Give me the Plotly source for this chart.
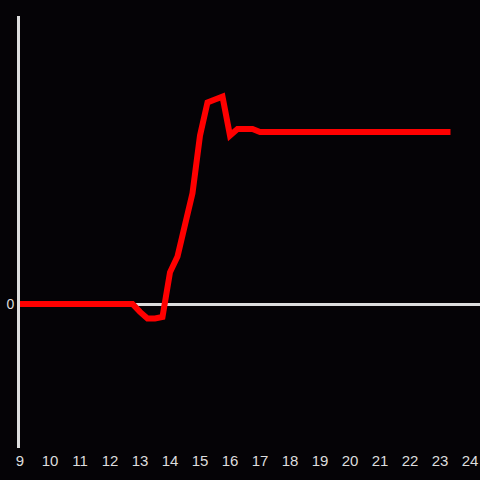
import plotly.graph_objects as go

hours = [9.0, 9.25, 9.5, 9.75, 10.0, 10.25, 10.5, 10.75, 11.0, 11.25, 11.5, 11.75,
         12.0, 12.25, 12.5, 12.75, 13.0, 13.25, 13.5, 13.75, 14.0, 14.25, 14.5,
         14.75, 15.0, 15.25, 15.5, 15.75, 16.0, 16.25, 16.5, 16.75, 17.0, 17.25,
         17.5, 17.75, 18.0, 18.5, 19.0, 19.5, 20.0, 20.5, 21.0, 21.5, 22.0, 22.5,
         23.0, 23.35]
values = [0, 0, 0, 0, 0, 0, 0, 0, 0, 0, 0, 0,
          0, 0, 0, 0, -0.055, -0.1, -0.1, -0.09, 0.22, 0.33, 0.55,
          0.77, 1.17, 1.40, 1.42, 1.44, 1.17, 1.215, 1.215, 1.215, 1.194, 1.194,
          1.194, 1.194, 1.194, 1.194, 1.194, 1.194, 1.194, 1.194, 1.194, 1.194, 1.194, 1.194,
          1.194, 1.194]
x_ticks = list(range(9, 25))
y_ticks = [0]

fig = go.Figure(go.Scatter(x=hours, y=values, mode="lines",
                           line=dict(color="#ff0000", width=6), hoverinfo="skip"))

bg = "#050306"
fig.update_layout(
    width=480, height=480,
    margin=dict(l=20, r=0, t=16, b=32),
    paper_bgcolor=bg, plot_bgcolor=bg,
    showlegend=False,
    font=dict(family="Liberation Sans, Arial, sans-serif", color="#dddddd", size=14),
    xaxis=dict(range=[9, 9 + 460 / 30], tickvals=x_ticks, ticktext=[str(t) for t in x_ticks],
               showgrid=False, zeroline=False, showline=False, ticks="",
               tickfont=dict(size=15), ticklabelstandoff=2),
    yaxis=dict(range=[-1, 2], tickvals=y_ticks, ticktext=["0"], showgrid=False,
               zeroline=True, zerolinecolor="#dddddd", zerolinewidth=3,
               showline=True, linecolor="#dddddd", linewidth=3, ticks="",
               tickfont=dict(size=14)),
)
fig.write_html("out.html", config={"displayModeBar": False, "staticPlot": True},
               post_script="document.body.style.margin='0';document.body.style.background='%s';" % bg)
